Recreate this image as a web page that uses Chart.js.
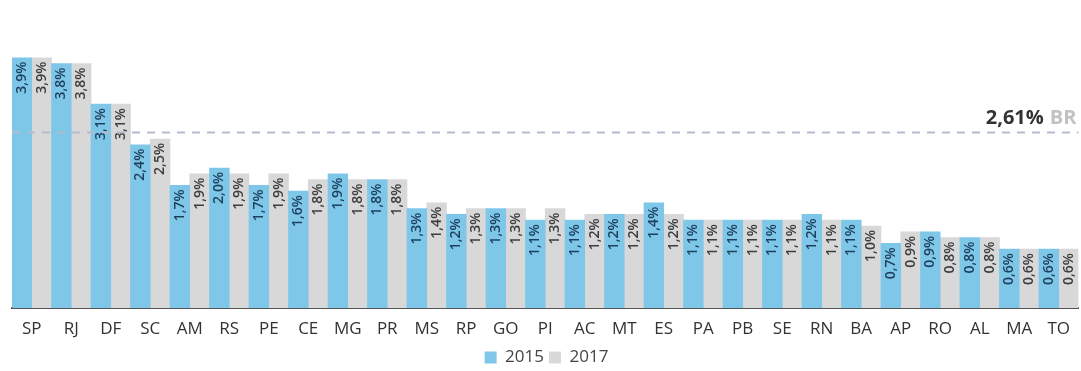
<!DOCTYPE html>
<html>
<head>
<meta charset="utf-8">
<script src="https://cdn.jsdelivr.net/npm/chart.js@4.4.1/dist/chart.umd.min.js"></script>
<style>
  html, body { margin: 0; padding: 0; background: #ffffff; }
  #wrap { width: 1081px; height: 371px; position: relative; }
</style>
</head>
<body>
<div id="wrap"><canvas id="c" width="1081" height="371"></canvas></div>
<script>
const categories = ['SP','RJ','DF','SC','AM','RS','PE','CE','MG','PR','MS','RP','GO','PI','AC','MT','ES','PA','PB','SE','RN','BA','AP','RO','AL','MA','TO'];
const values2015 = [3.9,3.8,3.1,2.4,1.7,2.0,1.7,1.6,1.9,1.8,1.3,1.2,1.3,1.1,1.1,1.2,1.4,1.1,1.1,1.1,1.2,1.1,0.7,0.9,0.8,0.6,0.6];
const values2017 = [3.9,3.8,3.1,2.5,1.9,1.9,1.9,1.8,1.8,1.8,1.4,1.3,1.3,1.3,1.2,1.2,1.2,1.1,1.1,1.1,1.1,1.0,0.9,0.8,0.8,0.6,0.6];
const seriesNames = ['2015','2017'];
const brValue = 2.61;
const brLabel = '2,61%';
const brTag = 'BR';
const yMin = -0.414;
const yMax = 4.896;

const fmt = v => v.toFixed(1).replace('.', ',') + '%';

const labelPlugin = {
  id: 'barLabels',
  afterDatasetsDraw(chart) {
    const ctx = chart.ctx;
    const colors = ['#1d3f5e', '#3d3d3d'];
    chart.data.datasets.forEach((ds, di) => {
      const meta = chart.getDatasetMeta(di);
      meta.data.forEach((bar, i) => {
        ctx.save();
        ctx.translate(bar.x, bar.y + 4);
        ctx.rotate(-Math.PI / 2);
        ctx.font = '600 14px "Open Sans"';
        ctx.fillStyle = colors[di];
        ctx.textAlign = 'right';
        ctx.textBaseline = 'middle';
        ctx.fillText(fmt(ds.data[i]), 0, 0);
        ctx.restore();
      });
    });
    // reference line
    const y = chart.scales.y.getPixelForValue(brValue);
    const a = chart.chartArea;
    ctx.save();
    ctx.strokeStyle = '#b3bccb';
    ctx.lineWidth = 2;
    ctx.setLineDash([8, 7]);
    ctx.beginPath();
    ctx.moveTo(a.left, y);
    ctx.lineTo(a.right, y);
    ctx.stroke();
    ctx.setLineDash([]);
    ctx.textBaseline = 'alphabetic';
    ctx.textAlign = 'right';
    ctx.font = 'bold 20px "Open Sans"';
    ctx.fillStyle = '#c2c2c2';
    const right = a.right - 2;
    ctx.fillText(brTag, right, y - 9);
    const w = ctx.measureText(brTag).width;
    ctx.fillStyle = '#333333';
    ctx.fillText(brLabel, right - w - 6, y - 9);
    ctx.restore();
  }
};

new Chart(document.getElementById('c'), {
  type: 'bar',
  data: {
    labels: categories,
    datasets: [
      { label: seriesNames[0], data: values2015, backgroundColor: '#7fc7e8', borderWidth: 0, base: yMin },
      { label: seriesNames[1], data: values2017, backgroundColor: '#d8d8d8', borderWidth: 0, base: yMin }
    ]
  },
  options: {
    responsive: false,
    animation: false,
    devicePixelRatio: 1,
    layout: { padding: { left: 12, right: 0, top: 0, bottom: -5 } },
    datasets: { bar: { categoryPercentage: 1.0, barPercentage: 1.0 } },
    scales: {
      x: {
        grid: { display: false, drawTicks: false },
        border: { display: true, color: '#555555', width: 2 },
        ticks: { color: '#333333', font: { family: 'Open Sans', size: 17 }, padding: 11, maxRotation: 0, autoSkip: false },
        afterFit: (scale) => { scale.height = 36; }
      },
      y: { display: false, min: yMin, max: yMax }
    },
    plugins: {
      legend: {
        position: 'bottom',
        labels: { boxWidth: 12, boxHeight: 12, padding: 5, color: '#444444', font: { family: 'Open Sans', size: 17 } }
      },
      tooltip: { enabled: false }
    }
  },
  plugins: [labelPlugin]
});
</script>
</body>
</html>
